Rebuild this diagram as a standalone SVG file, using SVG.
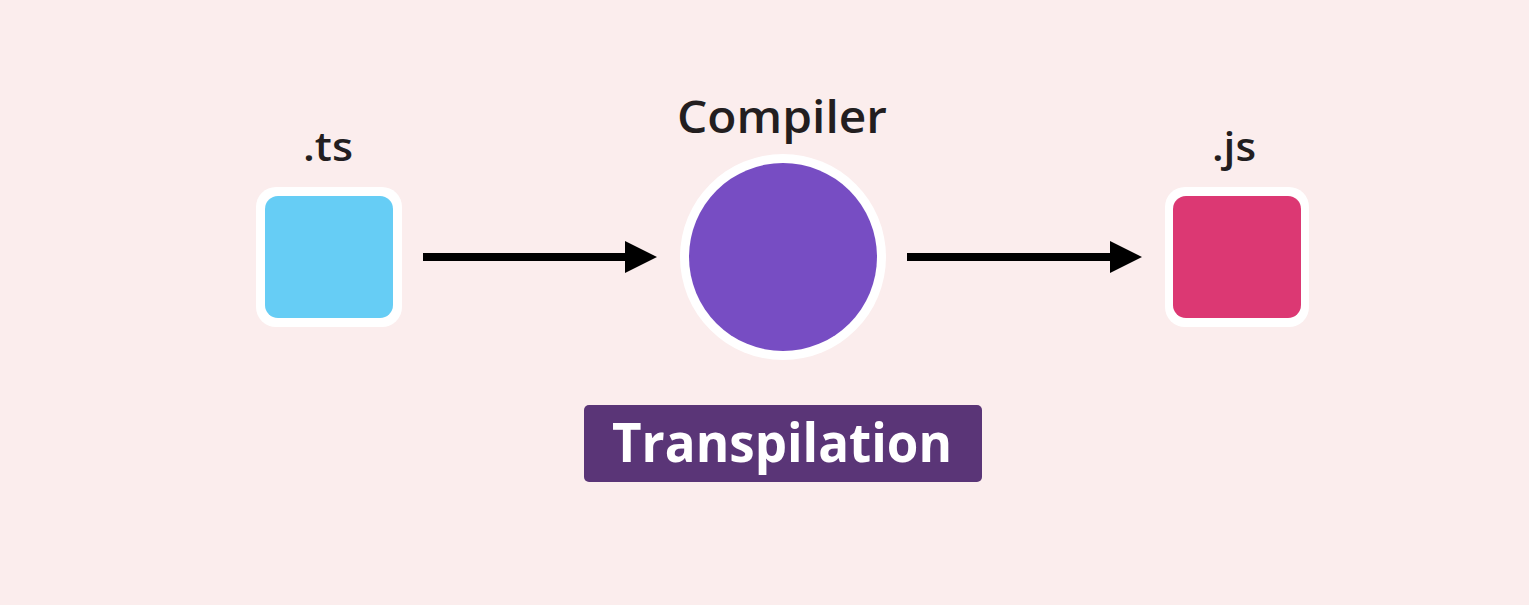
<svg xmlns="http://www.w3.org/2000/svg" width="1529" height="605" viewBox="0 0 1529 605">
<defs>
<style>
.lbl{font-family:"Open Sans","Noto Sans","Liberation Sans",sans-serif;font-weight:600;fill:#231e1f;text-anchor:middle}
.conn{stroke:#000;stroke-width:8;fill:none}
.ring{fill:#ffffff}
</style>
<marker id="ah" markerUnits="userSpaceOnUse" markerWidth="32" markerHeight="32" refX="1" refY="16" orient="auto" viewBox="0 0 32 32">
<path d="M0,0 L32,16 L0,32 Z" fill="#000"/>
</marker>
</defs>
<rect width="1529" height="605" fill="#fbeded"/>
<g id="connectors">
<line class="conn" x1="423" y1="257" x2="626" y2="257" marker-end="url(#ah)"/>
<line class="conn" x1="907" y1="257" x2="1111" y2="257" marker-end="url(#ah)"/>
</g>
<g id="ts">
<rect class="ring" x="256" y="187" width="146" height="140" rx="20"/>
<rect x="265" y="196" width="128" height="122" rx="13" fill="#66cdf5"/>
<text class="lbl" x="328" y="161" font-size="40" textLength="50" lengthAdjust="spacingAndGlyphs">.ts</text>
</g>
<g id="compiler">
<circle class="ring" cx="783" cy="257" r="103"/>
<circle cx="783" cy="257" r="94" fill="#774dc3"/>
<text class="lbl" x="782" y="133" font-size="45" textLength="210" lengthAdjust="spacingAndGlyphs">Compiler</text>
</g>
<g id="js">
<rect class="ring" x="1165" y="187" width="144" height="140" rx="20"/>
<rect x="1173" y="196" width="128" height="122" rx="13" fill="#dc3873"/>
<text class="lbl" x="1234" y="161" font-size="40" textLength="44" lengthAdjust="spacingAndGlyphs">.js</text>
</g>
<g id="transpilation">
<rect x="584" y="405" width="398" height="77" rx="5" fill="#5a3577"/>
<text x="782" y="462" font-family="'Open Sans','Noto Sans','Liberation Sans',sans-serif" font-weight="700" font-size="53" fill="#ffffff" text-anchor="middle" textLength="340" lengthAdjust="spacingAndGlyphs">Transpilation</text>
</g>
</svg>
